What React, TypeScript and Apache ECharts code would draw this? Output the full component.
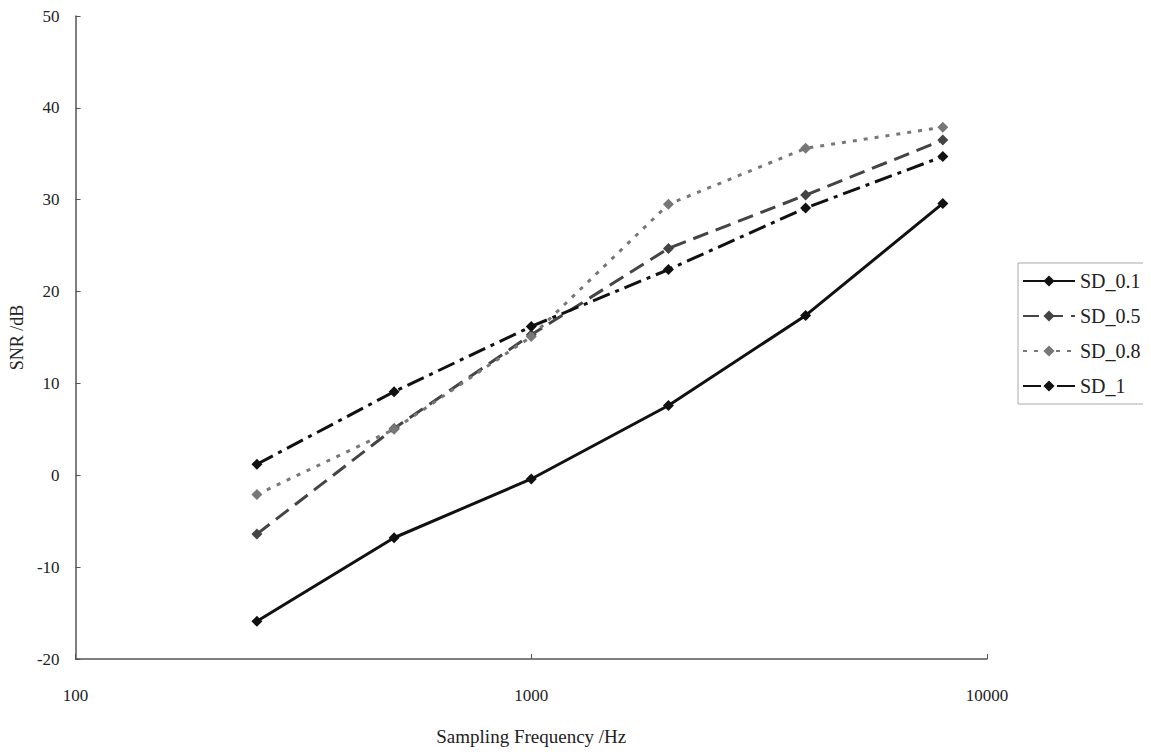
import React, { useEffect, useRef } from "react";
import * as echarts from "echarts";

const frequencies = [250, 500, 1000, 2000, 4000, 8000];
const sd01 = [-15.9, -6.8, -0.4, 7.6, 17.4, 29.6];
const sd05 = [-6.4, 5.1, 15.3, 24.7, 30.5, 36.5];
const sd08 = [-2.1, 5.0, 15.1, 29.5, 35.6, 37.9];
const sd1 = [1.2, 9.1, 16.2, 22.4, 29.1, 34.7];
const seriesNames = ["SD_0.1", "SD_0.5", "SD_0.8", "SD_1"];

const FONT = "Liberation Serif";

export default function App() {
  const ref = useRef<HTMLDivElement>(null);
  useEffect(() => {
    if (!ref.current) return;
    const chart = echarts.init(ref.current, undefined, { renderer: "svg" });
    const mk = (
      name: string,
      vals: number[],
      color: string,
      type: any,
      width: number
    ) => ({
      name,
      type: "line",
      data: frequencies.map((f, i) => [f, vals[i]]),
      symbol: "diamond",
      symbolSize: 11,
      itemStyle: { color },
      lineStyle: { color, width, type },
    });
    chart.setOption({
      animation: false,
      backgroundColor: "#fff",
      grid: { left: 68, right: 164, top: 16, bottom: 96 },
      legend: {
        orient: "vertical",
        left: 1018,
        top: 263,
        padding: [8, 6, 8, 4],
        itemGap: 15,
        itemWidth: 52,
        itemHeight: 14,
        borderColor: "#aaa",
        borderWidth: 1,
        textStyle: { fontFamily: FONT, fontSize: 20, color: "#222" },
        data: seriesNames,
      },
      xAxis: {
        type: "log",
        logBase: 10,
        min: 100,
        max: 10000,
        name: "Sampling Frequency /Hz",
        nameLocation: "middle",
        nameGap: 68,
        nameTextStyle: { fontFamily: FONT, fontSize: 19, color: "#222" },
        axisLine: { onZero: false, lineStyle: { color: "#555", width: 1.5 } },
        axisTick: { inside: true, length: 5, lineStyle: { color: "#555" } },
        minorTick: { show: false },
        splitLine: { show: false },
        axisLabel: {
          fontFamily: FONT,
          fontSize: 17,
          color: "#222",
          margin: 28,
          formatter: (v: number) => String(Math.round(v)),
        },
      },
      yAxis: {
        type: "value",
        min: -20,
        max: 50,
        interval: 10,
        name: "SNR /dB",
        nameLocation: "middle",
        nameGap: 48,
        nameTextStyle: { fontFamily: FONT, fontSize: 18, color: "#222" },
        axisLine: { show: true, onZero: false, lineStyle: { color: "#555", width: 1.5 } },
        axisTick: { show: true, inside: true, length: 5, lineStyle: { color: "#555" } },
        splitLine: { show: false },
        axisLabel: {
          fontFamily: FONT,
          fontSize: 17,
          color: "#222",
          margin: 16,
        },
      },
      series: [
        mk("SD_0.1", sd01, "#111", "solid", 3),
        mk("SD_0.5", sd05, "#444", [16, 8], 3),
        mk("SD_0.8", sd08, "#777", [4, 7], 3),
        mk("SD_1", sd1, "#111", [18, 6, 4, 6], 3),
      ],
    });
    return () => chart.dispose();
  }, []);
  return <div ref={ref} style={{ width: 1151, height: 755, margin: -8 }} />;
}
